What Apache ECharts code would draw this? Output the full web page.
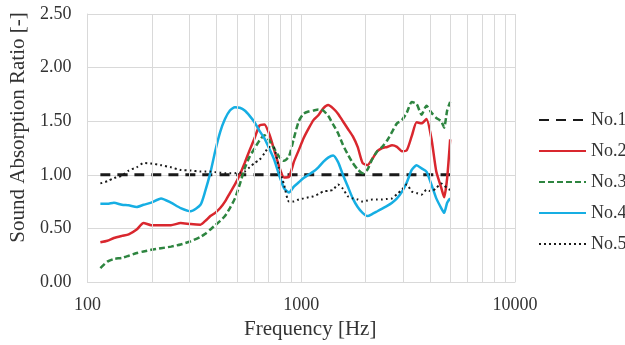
<!DOCTYPE html>
<html>
<head>
<meta charset="utf-8">
<script src="https://cdn.jsdelivr.net/npm/echarts@6/dist/echarts.min.js"></script>
<style>
  html, body { margin: 0; padding: 0; background: #fff; }
  #chart { width: 625px; height: 345px; }
</style>
</head>
<body>
<div id="chart"></div>
<script>
// frequency points [Hz]
var freqs = [115, 124, 133, 145, 156, 170, 183, 199, 221, 246, 273, 304, 338,
  356, 376, 396, 418, 440, 464, 490, 516, 544, 574, 605, 638, 673, 709, 748,
  788, 831, 876, 924, 974, 1026, 1082, 1141, 1203, 1268, 1337, 1410, 1486, 1567,
  1652, 1742, 1837, 1937, 2042, 2153, 2270, 2393, 2523, 2661, 2805, 2958, 3119,
  3288, 3467, 3655, 3854, 4063, 4284, 4517, 4662, 4816, 4974];

var no1 = freqs.map(function () { return 1.0; });
var no2 = [0.37, 0.385, 0.41, 0.43, 0.445, 0.49, 0.55, 0.53,
  0.53, 0.53, 0.55, 0.54, 0.535,
  0.57, 0.615, 0.645, 0.69, 0.75,
  0.83, 0.91, 1.0, 1.11, 1.23,
  1.34, 1.46, 1.47, 1.38, 1.23,
  1.08, 0.975, 0.98, 1.12, 1.23,
  1.34, 1.43, 1.51, 1.555, 1.62,
  1.65, 1.62, 1.57, 1.50, 1.43,
  1.36, 1.26, 1.11, 1.09, 1.15,
  1.22, 1.25, 1.26, 1.275, 1.26,
  1.22, 1.23, 1.36, 1.49, 1.48,
  1.52, 1.34, 1.03, 0.88, 0.79,
  0.97, 1.33];
var no3 = [0.13, 0.19, 0.215, 0.225, 0.245, 0.27, 0.285, 0.30,
  0.315, 0.33, 0.35, 0.38, 0.42,
  0.45, 0.49, 0.53, 0.57, 0.615,
  0.69, 0.78, 0.91, 1.06, 1.17,
  1.245, 1.32, 1.37, 1.32, 1.245,
  1.17, 1.13, 1.17, 1.34, 1.50,
  1.57, 1.59, 1.60, 1.61, 1.60,
  1.55, 1.47, 1.39, 1.28, 1.19,
  1.11, 1.05, 1.015, 1.05, 1.15,
  1.22, 1.26, 1.32, 1.40, 1.48,
  1.51, 1.58, 1.68, 1.66, 1.56,
  1.645, 1.58, 1.53, 1.50, 1.44,
  1.60, 1.68];
var no4 = [0.73, 0.73, 0.74, 0.72, 0.715, 0.70, 0.72, 0.74,
  0.78, 0.74, 0.69, 0.66, 0.72,
  0.85, 1.02, 1.22, 1.40, 1.52,
  1.60, 1.63, 1.625, 1.60, 1.55,
  1.49, 1.41, 1.34, 1.245, 1.14,
  1.0, 0.876, 0.835, 0.89, 0.93,
  0.97, 1.0, 1.03, 1.07, 1.12,
  1.16, 1.18, 1.12, 1.0, 0.89,
  0.78, 0.70, 0.645, 0.615, 0.635,
  0.66, 0.685, 0.71, 0.74, 0.78,
  0.84, 0.93, 1.045, 1.09, 1.06,
  1.03, 0.91, 0.78, 0.69, 0.645,
  0.74, 0.78];
var no5 = [0.92, 0.94, 0.97, 0.99, 1.04, 1.07, 1.11, 1.105,
  1.09, 1.07, 1.045, 1.04, 1.03,
  1.03, 1.03, 1.025, 1.02, 1.015,
  1.015, 1.015, 1.02, 1.03, 1.07,
  1.11, 1.14, 1.20, 1.26, 1.25,
  1.06, 0.91, 0.75, 0.75, 0.77,
  0.78, 0.79, 0.80, 0.82, 0.845,
  0.85, 0.86, 0.91, 0.87, 0.80,
  0.78, 0.77, 0.75, 0.76, 0.77,
  0.77, 0.77, 0.775, 0.78, 0.82,
  0.86, 0.91, 0.845, 0.83, 0.815,
  0.86, 0.845, 0.876, 0.92, 0.90,
  0.876, 0.86];

var seriesNames = ['No.1', 'No.2', 'No.3', 'No.4', 'No.5'];
var minorGrid = [200, 300, 400, 500, 600, 700, 800, 900,
  2000, 3000, 4000, 5000, 6000, 7000, 8000, 9000];

var FONT = 'Liberation Serif';
var GRIDCOLOR = '#d9d9d9';

function pairs(vals) {
  return freqs.map(function (f, i) { return [f, vals[i]]; });
}

function lineSeries(name, vals, color, type, width) {
  return {
    name: name,
    type: 'line',
    data: pairs(vals),
    symbol: 'none',
    smooth: 0.2,
    lineStyle: { color: color, type: type, width: width },
    itemStyle: { color: color },
    z: 3
  };
}

var chart = echarts.init(document.getElementById('chart'));
var option = {
  backgroundColor: '#ffffff',
  animation: false,
  textStyle: { fontFamily: FONT },
  grid: { left: 80, right: 110, top: 14, bottom: 60 },
  legend: {
    data: seriesNames,
    orient: 'vertical',
    left: 533,
    top: 106,
    itemWidth: 47,
    itemHeight: 14,
    itemGap: 13,
    itemStyle: { color: 'rgba(0,0,0,0)', borderWidth: 0, opacity: 0 },
    textStyle: { fontFamily: FONT, fontSize: 18, color: '#333' }
  },
  xAxis: {
    type: 'log',
    logBase: 10,
    min: 100,
    max: 10000,
    name: 'Frequency [Hz]',
    nameLocation: 'middle',
    nameGap: 37,
    nameTextStyle: { fontFamily: FONT, fontSize: 21, color: '#333', padding: [0, 0, 0, 18] },
    axisLine: { lineStyle: { color: GRIDCOLOR, width: 1 } },
    axisTick: { show: false },
    axisLabel: {
      fontFamily: FONT, fontSize: 18, color: '#333', margin: 14,
      formatter: function (v) { return String(Math.round(v)); }
    },
    splitLine: { show: true, lineStyle: { color: GRIDCOLOR, width: 1 } }
  },
  yAxis: {
    type: 'value',
    min: 0,
    max: 2.5,
    interval: 0.5,
    name: 'Sound Absorption Ratio [-]',
    nameLocation: 'middle',
    nameGap: 52,
    nameTextStyle: { fontFamily: FONT, fontSize: 21, color: '#333', padding: [0, 0, 0, 41] },
    axisLine: { show: true, lineStyle: { color: GRIDCOLOR, width: 1 } },
    axisTick: { show: false },
    axisLabel: {
      fontFamily: FONT, fontSize: 18, color: '#333', margin: 16,
      formatter: function (v) { return v.toFixed(2); }
    },
    splitLine: { show: true, lineStyle: { color: GRIDCOLOR, width: 1 } }
  },
  series: [
    {
      type: 'line',
      data: [],
      silent: true,
      z: 1,
      markLine: {
        silent: true,
        symbol: 'none',
        label: { show: false },
        lineStyle: { color: GRIDCOLOR, type: 'solid', width: 1 },
        data: minorGrid.map(function (f) { return { xAxis: f }; })
      }
    },
    lineSeries('No.1', no1, '#1a1a1a', [10, 7], 3),
    lineSeries('No.2', no2, '#d9272e', 'solid', 2.5),
    lineSeries('No.3', no3, '#2e8540', [6, 3], 2.5),
    lineSeries('No.4', no4, '#16aee3', 'solid', 2.5),
    lineSeries('No.5', no5, '#1a1a1a', [2, 3], 2)
  ]
};
chart.setOption(option);
</script>
</body>
</html>
